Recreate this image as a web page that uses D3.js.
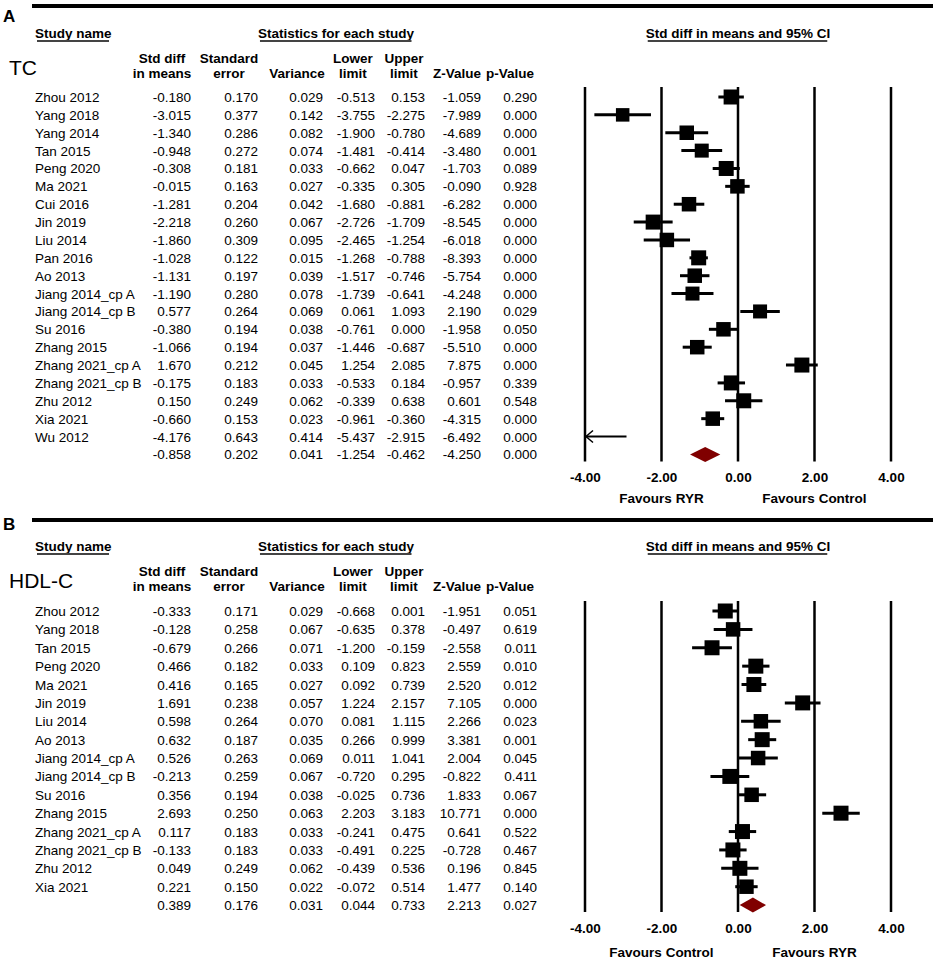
<!DOCTYPE html>
<html>
<head>
<meta charset="utf-8">
<script src="https://cdn.jsdelivr.net/npm/d3@7"></script>
<style>
  body { margin: 0; background: #fff; }
  svg { font-family: Arial, "Liberation Sans", sans-serif; }
  .hdr { font-weight: bold; font-size: 13.5px; }
  .cell { font-size: 13.5px; }
  .tick text { font-weight: bold; font-size: 13.5px; }
</style>
</head>
<body>
<script>
// ---- panel A: TC ----
var tcStudies = ["Zhou 2012", "Yang 2018", "Yang 2014", "Tan 2015", "Peng 2020", "Ma 2021",
  "Cui 2016", "Jin 2019", "Liu 2014", "Pan 2016", "Ao 2013", "Jiang 2014_cp A", "Jiang 2014_cp B",
  "Su 2016", "Zhang 2015", "Zhang 2021_cp A", "Zhang 2021_cp B", "Zhu 2012", "Xia 2021", "Wu 2012"];
var tcStd   = [-0.180, -3.015, -1.340, -0.948, -0.308, -0.015, -1.281, -2.218, -1.860, -1.028, -1.131, -1.190, 0.577, -0.380, -1.066, 1.670, -0.175, 0.150, -0.660, -4.176];
var tcSe    = [0.170, 0.377, 0.286, 0.272, 0.181, 0.163, 0.204, 0.260, 0.309, 0.122, 0.197, 0.280, 0.264, 0.194, 0.194, 0.212, 0.183, 0.249, 0.153, 0.643];
var tcVar   = [0.029, 0.142, 0.082, 0.074, 0.033, 0.027, 0.042, 0.067, 0.095, 0.015, 0.039, 0.078, 0.069, 0.038, 0.037, 0.045, 0.033, 0.062, 0.023, 0.414];
var tcLower = [-0.513, -3.755, -1.900, -1.481, -0.662, -0.335, -1.680, -2.726, -2.465, -1.268, -1.517, -1.739, 0.061, -0.761, -1.446, 1.254, -0.533, -0.339, -0.961, -5.437];
var tcUpper = [0.153, -2.275, -0.780, -0.414, 0.047, 0.305, -0.881, -1.709, -1.254, -0.788, -0.746, -0.641, 1.093, 0.000, -0.687, 2.085, 0.184, 0.638, -0.360, -2.915];
var tcZ     = [-1.059, -7.989, -4.689, -3.480, -1.703, -0.090, -6.282, -8.545, -6.018, -8.393, -5.754, -4.248, 2.190, -1.958, -5.510, 7.875, -0.957, 0.601, -4.315, -6.492];
var tcP     = [0.290, 0.000, 0.000, 0.001, 0.089, 0.928, 0.000, 0.000, 0.000, 0.000, 0.000, 0.000, 0.029, 0.050, 0.000, 0.000, 0.339, 0.548, 0.000, 0.000];
var tcBox   = [15, 13.5, 14.5, 14, 15, 14.5, 14.5, 15, 14.5, 15, 14.5, 14, 14, 14.5, 14.5, 15, 15, 15, 14.5, 12];
var tcSummary = [-0.858, 0.202, 0.041, -1.254, -0.462, -4.250, 0.000];

// ---- panel B: HDL-C ----
var hdlStudies = ["Zhou 2012", "Yang 2018", "Tan 2015", "Peng 2020", "Ma 2021", "Jin 2019", "Liu 2014",
  "Ao 2013", "Jiang 2014_cp A", "Jiang 2014_cp B", "Su 2016", "Zhang 2015", "Zhang 2021_cp A",
  "Zhang 2021_cp B", "Zhu 2012", "Xia 2021"];
var hdlStd   = [-0.333, -0.128, -0.679, 0.466, 0.416, 1.691, 0.598, 0.632, 0.526, -0.213, 0.356, 2.693, 0.117, -0.133, 0.049, 0.221];
var hdlSe    = [0.171, 0.258, 0.266, 0.182, 0.165, 0.238, 0.264, 0.187, 0.263, 0.259, 0.194, 0.250, 0.183, 0.183, 0.249, 0.150];
var hdlVar   = [0.029, 0.067, 0.071, 0.033, 0.027, 0.057, 0.070, 0.035, 0.069, 0.067, 0.038, 0.063, 0.033, 0.033, 0.062, 0.022];
var hdlLower = [-0.668, -0.635, -1.200, 0.109, 0.092, 1.224, 0.081, 0.266, 0.011, -0.720, -0.025, 2.203, -0.241, -0.491, -0.439, -0.072];
var hdlUpper = [0.001, 0.378, -0.159, 0.823, 0.739, 2.157, 1.115, 0.999, 1.041, 0.295, 0.736, 3.183, 0.475, 0.225, 0.536, 0.514];
var hdlZ     = [-1.951, -0.497, -2.558, 2.559, 2.520, 7.105, 2.266, 3.381, 2.004, -0.822, 1.833, 10.771, 0.641, -0.728, 0.196, 1.477];
var hdlP     = [0.051, 0.619, 0.011, 0.010, 0.012, 0.000, 0.023, 0.001, 0.045, 0.411, 0.067, 0.000, 0.522, 0.467, 0.845, 0.140];
var hdlBox   = [15, 14.5, 15, 15, 15, 15, 14.5, 15, 14.5, 15, 14.5, 15, 15, 15, 15, 14.5];
var hdlSummary = [0.389, 0.176, 0.031, 0.044, 0.733, 2.213, 0.027];

// ---- shared labels ----
var colHeads = [["Std diff", "in means"], ["Standard", "error"], ["", "Variance"],
  ["Lower", "limit"], ["Upper", "limit"], ["", "Z-Value"], ["", "p-Value"]];
var tickValues = [-4, -2, 0, 2, 4];

var width = 941, height = 970;
var colRight = [191, 258, 323, 375, 425, 481, 537];
var colCenter = [162, 229, 297, 353, 404, 457, 510];

// plain hyphen for negatives, like the original
var locale = d3.formatLocale({decimal: ".", thousands: ",", grouping: [3], currency: ["", ""], minus: "-"});
var fmt = locale.format(".3f");
var tickFmt = locale.format(".2f");

var svg = d3.select("body").append("svg")
    .attr("width", width)
    .attr("height", height);

var x = d3.scaleLinear().domain([-4, 4]).range([585, 891]);

// thick separator bars
[6, 520].forEach(function(yy) {
  svg.append("line")
    .attr("x1", 32).attr("x2", 933)
    .attr("y1", yy).attr("y2", yy)
    .attr("stroke", "#000").attr("stroke-width", 4);
});

function underlined(g, txt, xx, yy, anchor) {
  var t = g.append("text").attr("class", "hdr")
    .attr("x", xx).attr("y", yy)
    .attr("text-anchor", anchor)
    .text(txt);
  var b = t.node().getBBox();
  g.append("line")
    .attr("x1", b.x + 2).attr("x2", b.x + b.width - 3)
    .attr("y1", yy + 3).attr("y2", yy + 3)
    .attr("stroke", "#444").attr("stroke-width", 1.8);
}

function drawPanel(p) {
  var g = svg.append("g");
  var n = p.studies.length;

  var y = d3.scaleLinear().domain([0, n]).range([p.row0, p.row0 + n * p.step]);

  g.append("text").attr("x", 3).attr("y", p.letterY)
    .attr("font-weight", "bold").attr("font-size", "17px").text(p.letter);

  g.append("text").attr("x", 9).attr("y", p.headY + 42)
    .attr("font-size", "21px").text(p.label);

  underlined(g, "Study name", 35, p.headY + 5, "start");
  underlined(g, "Statistics for each study", 336, p.headY + 5, "middle");
  underlined(g, "Std diff in means and 95% CI", x(0), p.headY + 5, "middle");

  colHeads.forEach(function(h, i) {
    g.append("text").attr("class", "hdr").attr("text-anchor", "middle")
      .attr("x", colCenter[i]).attr("y", p.headY + 30).text(h[0]);
    g.append("text").attr("class", "hdr").attr("text-anchor", "middle")
      .attr("x", colCenter[i]).attr("y", p.headY + 45).text(h[1]);
  });

  // table rows
  var rows = p.studies.map(function(s, i) {
    return {name: s, vals: [p.std[i], p.se[i], p.vr[i], p.lo[i], p.up[i], p.z[i], p.p[i]],
            box: p.box[i], i: i};
  });
  rows.push({name: "", vals: p.summary, i: n, summary: true});

  var rowG = g.selectAll(".row").data(rows).enter().append("g")
    .attr("class", "row")
    .attr("transform", function(d) { return "translate(0," + y(d.i) + ")"; });

  rowG.append("text").attr("class", "cell").attr("x", 35).attr("y", 5)
    .text(function(d) { return d.name; });

  rowG.selectAll(".num").data(function(d) { return d.vals; }).enter().append("text")
    .attr("class", "cell num")
    .attr("text-anchor", "end")
    .attr("x", function(d, j) { return colRight[j]; })
    .attr("y", 5)
    .text(function(d) { return fmt(d); });

  // reference lines + axis
  var top = p.row0 - 10, bottom = y(n) + 7;
  g.selectAll(".vline").data(tickValues).enter().append("line")
    .attr("x1", function(d) { return x(d); }).attr("x2", function(d) { return x(d); })
    .attr("y1", top).attr("y2", bottom)
    .attr("stroke", "#000").attr("stroke-width", 2.5);

  var axis = d3.axisBottom(x).tickValues(tickValues).tickSize(0).tickPadding(0)
    .tickFormat(tickFmt);
  var ax = g.append("g").attr("transform", "translate(0," + (y(n) + 18) + ")").call(axis);
  ax.select(".domain").remove();
  ax.selectAll("text").attr("dy", "0.71em").attr("fill", "#000");

  g.append("text").attr("class", "hdr").attr("text-anchor", "middle")
    .attr("x", x(-2)).attr("y", y(n) + p.favOff).text(p.favLeft);
  g.append("text").attr("class", "hdr").attr("text-anchor", "middle")
    .attr("x", x(2)).attr("y", y(n) + p.favOff).text(p.favRight);

  // study CI lines and boxes
  var studyRows = rows.filter(function(d) { return !d.summary; });
  var lo = x.domain()[0], hi = x.domain()[1];

  g.selectAll(".ci").data(studyRows).enter().append("line")
    .attr("x1", function(d) { return x(Math.max(lo, d.vals[3])); })
    .attr("x2", function(d) { return x(Math.min(hi, d.vals[4])); })
    .attr("y1", function(d) { return y(d.i); })
    .attr("y2", function(d) { return y(d.i); })
    .attr("stroke", "#000")
    .attr("stroke-width", function(d) { return d.vals[3] < lo ? 2 : 3; });

  // open arrowheads for clipped intervals
  studyRows.filter(function(d) { return d.vals[3] < lo; }).forEach(function(d) {
    var ax0 = x(lo), ay = y(d.i);
    g.append("path")
      .attr("d", "M" + (ax0 + 8) + "," + (ay - 6) + "L" + (ax0 + 1) + "," + ay + "L" + (ax0 + 8) + "," + (ay + 6))
      .attr("fill", "none").attr("stroke", "#000").attr("stroke-width", 1.5);
  });

  g.selectAll(".box").data(studyRows.filter(function(d) { return d.vals[0] >= lo && d.vals[0] <= hi; }))
    .enter().append("rect")
    .attr("x", function(d) { return x(d.vals[0]) - d.box / 2; })
    .attr("y", function(d) { return y(d.i) - d.box / 2; })
    .attr("width", function(d) { return d.box; })
    .attr("height", function(d) { return d.box; })
    .attr("fill", "#000");

  // summary diamond
  var s = p.summary, sy = y(n), h = 7.5;
  g.append("path")
    .attr("d", "M" + x(s[3]) + "," + sy + "L" + x(s[0]) + "," + (sy - h) +
               "L" + x(s[4]) + "," + sy + "L" + x(s[0]) + "," + (sy + h) + "Z")
    .attr("fill", "#800000");
}

drawPanel({
  letter: "A", letterY: 22, label: "TC", headY: 33, row0: 97, step: 17.87, favOff: 49,
  studies: tcStudies, std: tcStd, se: tcSe, vr: tcVar, lo: tcLower, up: tcUpper, z: tcZ, p: tcP,
  box: tcBox, summary: tcSummary, favLeft: "Favours RYR", favRight: "Favours Control"
});

drawPanel({
  letter: "B", letterY: 530, label: "HDL-C", headY: 546, row0: 611, step: 18.38, favOff: 52,
  studies: hdlStudies, std: hdlStd, se: hdlSe, vr: hdlVar, lo: hdlLower, up: hdlUpper, z: hdlZ, p: hdlP,
  box: hdlBox, summary: hdlSummary, favLeft: "Favours Control", favRight: "Favours RYR"
});
</script>
</body>
</html>
